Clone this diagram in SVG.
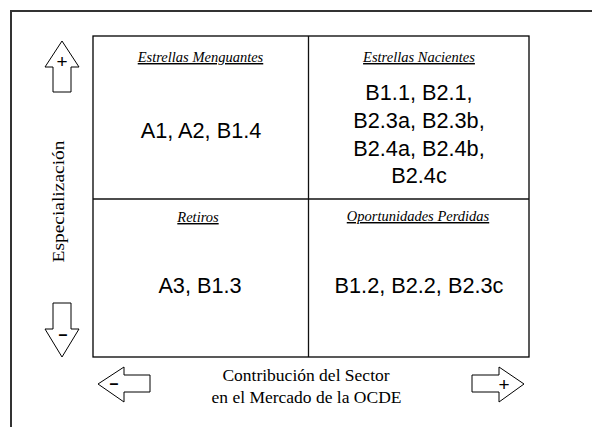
<svg xmlns="http://www.w3.org/2000/svg" width="592" height="427" viewBox="0 0 592 427">
<style>
.frame{fill:none;stroke:#333;stroke-width:2}
.box{fill:#fff;stroke:#000;stroke-width:1.3}
.div{stroke:#111;stroke-width:1.3}
.arrow{fill:#fff;stroke:#000;stroke-width:1}
.cap{font-family:"Liberation Serif","Times New Roman",serif;font-style:italic;font-size:14.5px;text-decoration:underline;text-anchor:middle;fill:#000}
.items{font-family:"Liberation Sans",Arial,sans-serif;font-size:21.7px;text-anchor:middle;fill:#000}
.axis{font-family:"Liberation Serif","Times New Roman",serif;font-size:17.5px;text-anchor:middle;fill:#000}
.plus{font-family:"Liberation Sans",Arial,sans-serif;font-size:19px;text-anchor:middle;fill:#000}
.minus{font-family:"Liberation Sans",Arial,sans-serif;font-size:16px;font-weight:bold;text-anchor:middle;fill:#000}
</style>
<rect width="592" height="427" fill="#fff"/>
<path class="frame" d="M11,427 V11 H592"/>
<g id="matrix">
<rect class="box" x="93" y="36" width="436" height="321"/>
<line class="div" x1="308.5" y1="36" x2="308.5" y2="357"/>
<line class="div" x1="93" y1="199" x2="529" y2="199"/>
</g>
<g id="q-estrellas-menguantes">
<text class="cap" x="200.5" y="62">Estrellas Menguantes</text>
<text class="items" x="201" y="138">A1, A2, B1.4</text>
</g>
<g id="q-estrellas-nacientes">
<text class="cap" x="419" y="62">Estrellas Nacientes</text>
<text class="items" x="419" y="100">B1.1, B2.1,</text>
<text class="items" x="419" y="128">B2.3a, B2.3b,</text>
<text class="items" x="419" y="155.5">B2.4a, B2.4b,</text>
<text class="items" x="419" y="183">B2.4c</text>
</g>
<g id="q-retiros">
<text class="cap" x="198" y="222">Retiros</text>
<text class="items" x="200" y="293">A3, B1.3</text>
</g>
<g id="q-oportunidades-perdidas">
<text class="cap" x="418" y="221">Oportunidades Perdidas</text>
<text class="items" x="419" y="293">B1.2, B2.2, B2.3c</text>
</g>
<g id="axis-y">
<text class="axis" transform="translate(63.5,201.5) rotate(-90)" textLength="122" lengthAdjust="spacingAndGlyphs">Especialización</text>
</g>
<g id="axis-x">
<text class="axis" x="306" y="381">Contribución del Sector</text>
<text class="axis" x="306.5" y="403">en el Mercado de la OCDE</text>
</g>
<g id="connectors">
<g id="arrow-up">
<polygon class="arrow" points="62,41 79,67 71,67 71,92 53,92 53,67 45,67"/>
<text class="plus" x="62" y="68">+</text>
</g>
<g id="arrow-down">
<polygon class="arrow" points="53,303 71,303 71,329 79,329 62,357 45,329 53,329"/>
<text class="minus" x="63" y="340">–</text>
</g>
<g id="arrow-left">
<polygon class="arrow" points="98,384 124,367 124,375 150,375 150,392 124,392 124,402"/>
<text class="minus" x="114" y="389">–</text>
</g>
<g id="arrow-right">
<polygon class="arrow" points="472,375 499,375 499,367 524,384 499,402 499,392 472,392"/>
<text class="plus" x="504" y="391">+</text>
</g>
</g>
</svg>
